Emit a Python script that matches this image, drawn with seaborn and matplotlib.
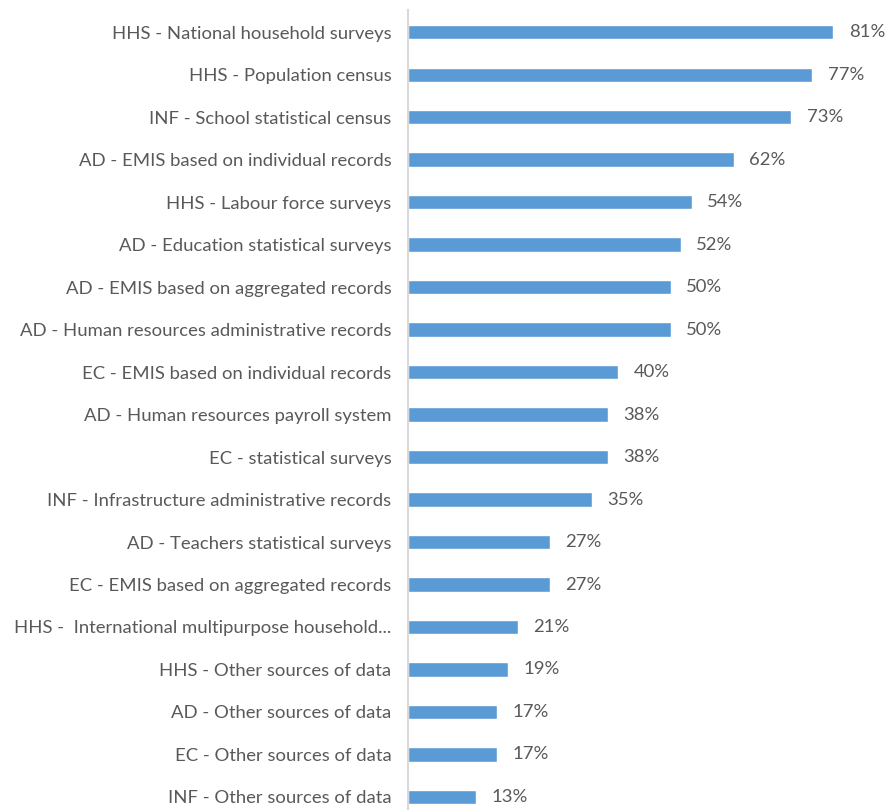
import seaborn as sns
import matplotlib.pyplot as plt
import pandas as pd

sources = [
    "HHS - National household surveys",
    "HHS - Population census",
    "INF - School statistical census",
    "AD - EMIS based on individual records",
    "HHS - Labour force surveys",
    "AD - Education statistical surveys",
    "AD - EMIS based on aggregated records",
    "AD - Human resources administrative records",
    "EC - EMIS based on individual records",
    "AD - Human resources payroll system",
    "EC - statistical surveys",
    "INF - Infrastructure administrative records",
    "AD - Teachers statistical surveys",
    "EC - EMIS based on aggregated records",
    "HHS -  International multipurpose household...",
    "HHS - Other sources of data",
    "AD - Other sources of data",
    "EC - Other sources of data",
    "INF - Other sources of data",
]
shares = [81, 77, 73, 62, 54, 52, 50, 50, 40, 38, 38, 35, 27, 27, 21, 19, 17, 17, 13]

df = pd.DataFrame({"Source": sources, "Share": shares})

sns.set_style("white")
plt.rcParams["font.family"] = ["Lato", "DejaVu Sans"]

fig = plt.figure(figsize=(8.86, 8.10), dpi=100)
ax = fig.add_axes([408 / 886, 0, 478 / 886, 800 / 810])

sns.barplot(data=df, x="Share", y="Source", color="#5b9bd5", saturation=1,
            width=0.33, orient="h", ax=ax)

ax.set_xlim(0, 91)
ax.set_ylim(18.306, -0.518)
ax.bar_label(ax.containers[0], fmt="%d%%", padding=11, fontsize=13.3, color="#595959")

ax.set_xlabel("")
ax.set_ylabel("")
ax.set_xticks([])
ax.tick_params(axis="y", length=0, pad=12, labelsize=13.3, labelcolor="#595959")
for side in ["top", "right", "bottom"]:
    ax.spines[side].set_visible(False)
ax.spines["left"].set_color("#d9d9d9")
ax.spines["left"].set_linewidth(1.5)

fig.savefig("out.png", dpi=100)
